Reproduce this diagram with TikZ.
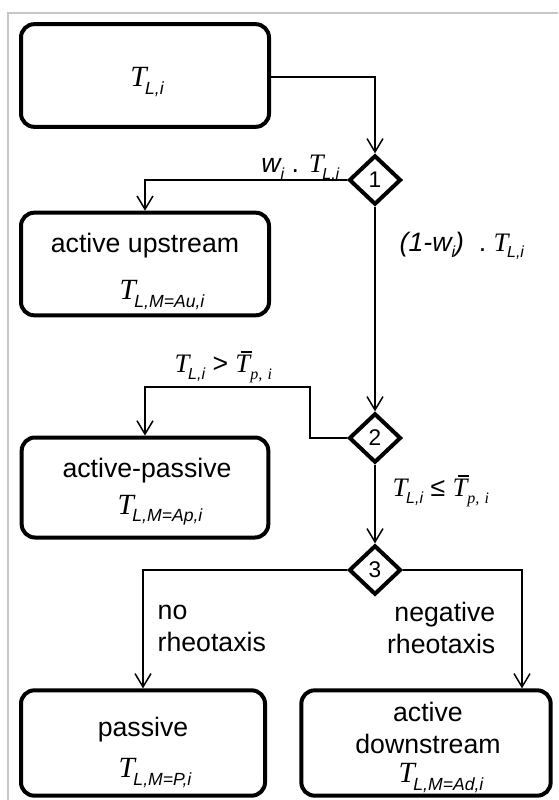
\documentclass[tikz,border=0pt]{standalone}
\usepackage{fontspec}
\setmainfont{Liberation Serif}
\setsansfont{Liberation Sans}
\usetikzlibrary{shapes.geometric, arrows.meta, positioning}
\makeatletter
\newcommand\lowsub[1]{\raisebox{-.25em}{\fontsize{\fpeval{0.6*\f@size}}{0}\selectfont\itshape #1}}
\makeatother
\newcommand\TL[1]{{\rmfamily\itshape T}\kern-.05em\lowsub{#1}}
\newcommand\Tp{{\rmfamily\itshape\rlap{\kern.2em\rule[.74em]{.42em}{.05em}}T}\lowsub{\rmfamily\itshape p,\,\,i}}
\tikzset{
  every node/.style = {font=\sffamily\fontsize{20}{24}\selectfont},   % Arial-like text
  frame/.style      = {draw=black!22, line width=1.5pt},
  stagebox/.style   = {rectangle, draw, line width=3pt, rounded corners=10pt,
                       inner sep=0pt},
  choice/.style     = {diamond, draw, line width=3pt, aspect=1, inner sep=0pt,
                       minimum width=39pt, minimum height=37pt,
                       font=\sffamily\fontsize{17}{18}\selectfont},
  mathtxt/.style    = {font=\sffamily\fontsize{22}{24}\selectfont},
  edgetxt/.style    = {font=\sffamily\fontsize{20}{22}\selectfont},
  arrow/.style      = {-{Straight Barb[length=10pt, width=12pt]}, line width=1.1pt}
}
\begin{document}
\begin{tikzpicture}[x=0.75pt, y=-0.75pt]
  \useasboundingbox (0,0) rectangle (558,800);
  \draw[frame] (8,800) -- (8,13) -- (558,13);
  % stages
  \node[stagebox, minimum width=186pt, minimum height=77pt] (load) at (145,75.5) {};
  \node[stagebox, minimum width=186pt, minimum height=77pt] (up) at (145,264) {};
  \node[stagebox, minimum width=185pt, minimum height=75pt] (ap) at (145,487.5) {};
  \node[stagebox, minimum width=183pt, minimum height=79pt] (pas) at (143,743) {};
  \node[stagebox, minimum width=187pt, minimum height=79pt] (down) at (426,743) {};
  % decisions
  \node[choice] (d1) at (375,180) {1};
  \node[choice] (d2) at (375,438) {2};
  \node[choice] (d3) at (375,570) {3};
  \coordinate (bend) at (310,387);
  % texts in the stages
  \node[mathtxt] (tload) at (147,82) {\TL{L,i}};
  \node (tup) at (145,246) {active upstream};
  \node[mathtxt] (mup) at (162,295) {\TL{L,M=Au,i}};
  \node (tap) at (147,471) {active-passive};
  \node[mathtxt] (map) at (160,510) {\TL{L,M=Ap,i}};
  \node (tpas) at (143,730) {passive};
  \node[mathtxt] (mpas) at (155,773) {\TL{L,M=P,i}};
  \node[align=center] (tdown) at (428,728) {active\\downstream};
  \node[mathtxt] (mdown) at (441,778) {\TL{L,M=Ad,i}};
  % connectors
  \draw[arrow] (load.east |- 0,77) -| (d1.north);
  \draw[arrow] (d1.west) -| (up.north);
  \draw[arrow] (d1.south) -- (d2.north);
  \draw[arrow] (d2.west) -| (bend) -| (ap.north);
  \draw[arrow] (d2.south) -- (d3.north);
  \draw[arrow] (d3.west) -| (pas.north);
  \draw[arrow] (d3.east) -| ([xshift=72pt]down.north);
  % branch labels
  \node[edgetxt, anchor=east] (l1) at (344,168) {{\itshape w}\lowsub{i} . \TL{L,i}};
  \node[edgetxt, anchor=west] (l2) at (395,246) {{\itshape (1-w}\lowsub{i}{\itshape )}\ \ .\ \TL{L,i}};
  \node[edgetxt, anchor=west] (l3) at (170,367) {\TL{L,i} > \Tp};
  \node[edgetxt, anchor=west] (l4) at (388,491) {\TL{L,i} ≤ \Tp};
  \node[anchor=west, align=left] (l5) at (153,628) {no\\rheotaxis};
  \node[anchor=east, align=right] (l6) at (500,628) {negative\\rheotaxis};
\end{tikzpicture}
\end{document}
